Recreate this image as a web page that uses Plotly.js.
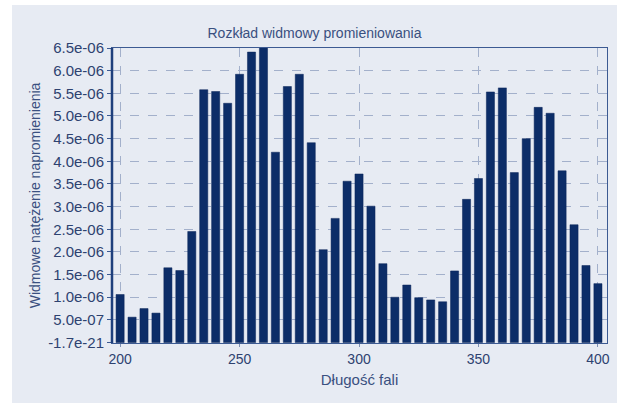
<!DOCTYPE html>
<html>
<head>
<meta charset="utf-8">
<script src="https://cdn.plot.ly/plotly-3.0.1.min.js"></script>
<style>
html,body{margin:0;padding:0;background:#ffffff;}
#chart{position:absolute;left:12px;top:5px;width:605px;height:398px;}
</style>
</head>
<body>
<div id="chart"></div>
<script>
const wavelengths = [200,205,210,215,220,225,230,235,240,245,250,255,260,265,270,275,280,285,290,295,300,305,310,315,320,325,330,335,340,345,350,355,360,365,370,375,380,385,390,395,400];
const irradiance = [1.06e-6,0.56e-6,0.75e-6,0.65e-6,1.65e-6,1.59e-6,2.45e-6,5.58e-6,5.54e-6,5.28e-6,5.92e-6,6.41e-6,6.55e-6,4.20e-6,5.65e-6,5.92e-6,4.41e-6,2.05e-6,2.74e-6,3.56e-6,3.72e-6,3.01e-6,1.74e-6,1.00e-6,1.27e-6,0.99e-6,0.94e-6,0.90e-6,1.58e-6,3.16e-6,3.62e-6,5.53e-6,5.62e-6,3.75e-6,4.50e-6,5.19e-6,5.06e-6,3.79e-6,2.60e-6,1.70e-6,1.30e-6];
const yTickVals = [0,0.5e-6,1.0e-6,1.5e-6,2.0e-6,2.5e-6,3.0e-6,3.5e-6,4.0e-6,4.5e-6,5.0e-6,5.5e-6,6.0e-6,6.5e-6];
const yTickText = ["-1.7e-21","5.0e-07","1.0e-06","1.5e-06","2.0e-06","2.5e-06","3.0e-06","3.5e-06","4.0e-06","4.5e-06","5.0e-06","5.5e-06","6.0e-06","6.5e-06"];
const xTickVals = [200,250,300,350,400];
const chartTitle = "Rozkład widmowy promieniowania";
const xTitle = "Długość fali";
const yTitle = "Widmowe natężenie napromienienia";

const trace = {
  type: 'bar',
  x: wavelengths,
  y: irradiance,
  marker: {color: '#0c2d68', line: {color: '#0a2558', width: 0.5}},
  hoverinfo: 'x+y'
};

const fontColor = '#2e4270';
const layout = {
  width: 605, height: 398,
  paper_bgcolor: '#e7ebf3',
  plot_bgcolor: '#e7ebf3',
  margin: {l: 100, r: 10, t: 43, b: 60},
  bargap: 0.32,
  showlegend: false,
  font: {family: 'Liberation Sans, Arial, sans-serif', size: 14, color: fontColor},
  title: {text: chartTitle, x: 0.5, xanchor: 'center', y: 1, yref: 'paper', yanchor: 'bottom', pad: {b: 10}, font: {size: 14, color: '#3a5080'}},
  xaxis: {
    range: [196.6, 403.8],
    tickvals: xTickVals,
    ticktext: xTickVals.map(String),
    ticks: 'outside', ticklen: 3, tickcolor: '#7d8fb3',
    showgrid: true, gridcolor: '#a3b0cb', griddash: 'dash', gridwidth: 1,
    zeroline: false,
    showline: true, linecolor: '#3c5a92', linewidth: 1, mirror: true,
    tickfont: {size: 14, color: fontColor},
    title: {text: xTitle, standoff: 8, font: {size: 15, color: '#3a5080'}}
  },
  yaxis: {
    range: [-0.01e-6, 6.5e-6],
    tickvals: yTickVals,
    ticktext: yTickText,
    ticks: 'outside', ticklen: 4, tickcolor: '#3c5a92',
    showgrid: true, gridcolor: '#a3b0cb', griddash: 'dash', gridwidth: 1,
    zeroline: false,
    showline: true, linecolor: '#3c5a92', linewidth: 1, mirror: true,
    tickfont: {size: 15, color: fontColor},
    title: {text: yTitle, standoff: 4, font: {size: 14, color: '#3a5080'}}
  },
  shapes: [{
    type: 'line', xref: 'paper', yref: 'paper', x0: 0, x1: 0, y0: 0, y1: 1,
    line: {color: '#1e3f7c', width: 2.5}
  }]
};

Plotly.newPlot('chart', [trace], layout, {displayModeBar: false, staticPlot: true});
</script>
</body>
</html>
